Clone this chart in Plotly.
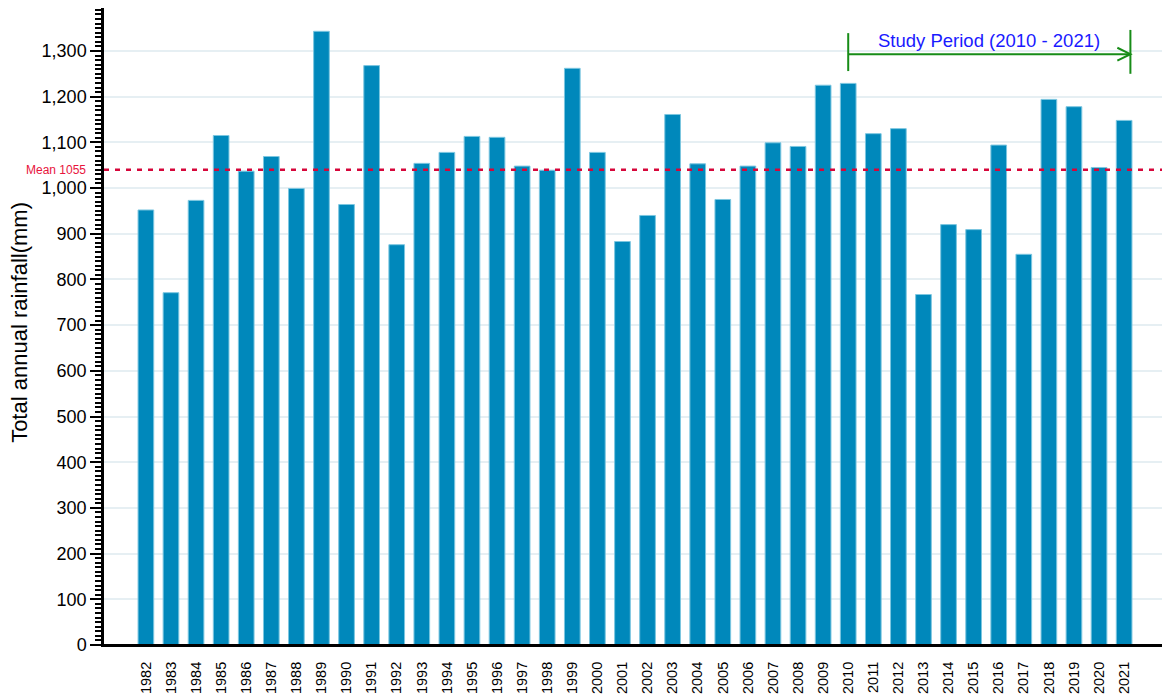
import plotly.graph_objects as go

years = list(range(1982, 2022))
rainfall = [952, 771, 973, 1115, 1037, 1069, 999, 1343, 964, 1268,
            876, 1054, 1078, 1113, 1111, 1048, 1039, 1262, 1078, 883,
            940, 1161, 1053, 975, 1048, 1099, 1091, 1225, 1229, 1119,
            1130, 767, 920, 909, 1094, 855, 1194, 1178, 1045, 1148]

mean_level = 1040
mean_label = "Mean 1055"

study_start = 2010
study_end = 2021
study_label = "Study Period (2010 - 2021)"

y_title = "Total annual rainfall(mm)"
y_ticks = list(range(0, 1301, 100))

fig = go.Figure()
fig.add_trace(go.Bar(
    x=years, y=rainfall, width=0.625,
    marker=dict(color="#0088bb", line=dict(color="#7cc6e0", width=1)),
    showlegend=False,
))

green = "#178c17"
bx_r = study_end + 0.25
y_line = 1293

# mean line
fig.add_shape(type="line", xref="paper", yref="y", x0=0, x1=1,
              y0=mean_level, y1=mean_level,
              line=dict(color="#d6063a", width=2.5, dash="5px,6px"))
fig.add_annotation(xref="paper", yref="y", x=-0.015, y=mean_level,
                   text=mean_label, showarrow=False, xanchor="right",
                   yanchor="middle",
                   font=dict(family="Liberation Sans, Arial", size=12, color="#e8143c"))

# study period bracket
fig.add_shape(type="line", xref="x", yref="y", x0=study_start, x1=study_start,
              y0=1256, y1=1339, line=dict(color=green, width=2))
fig.add_shape(type="line", xref="x", yref="y", x0=bx_r, x1=bx_r,
              y0=1250, y1=1346, line=dict(color=green, width=2))
fig.add_shape(type="line", xref="x", yref="y", x0=study_start, x1=bx_r,
              y0=y_line, y1=y_line, line=dict(color=green, width=2))
fig.add_shape(type="path", xref="x", yref="y",
              path=f"M {bx_r-0.52},{y_line+14} L {bx_r},{y_line} L {bx_r-0.52},{y_line-14}",
              line=dict(color=green, width=2))
fig.add_annotation(xref="x", yref="y", x=(study_start + bx_r) / 2, y=y_line + 3,
                   text=study_label, showarrow=False, yanchor="bottom",
                   font=dict(family="Liberation Sans, Arial", size=18.5, color="#1a1aff"))

# y axis title
fig.add_annotation(xref="paper", yref="paper", x=-0.0805, y=0.507,
                   text=y_title, showarrow=False, textangle=-90,
                   xanchor="center", yanchor="middle",
                   font=dict(family="Liberation Sans, Arial", size=22, color="black"))

# x axis extension line into margin
fig.add_shape(type="line", xref="paper", yref="y", x0=-0.0113, x1=1, y0=0, y1=0,
              line=dict(color="black", width=2))

fig.update_layout(
    width=1154, height=689,
    margin=dict(l=96, r=0, t=0, b=52),
    plot_bgcolor="white", paper_bgcolor="white",
    xaxis=dict(
        range=[1980.33, 2022.51], automargin=False,
        tickmode="array", tickvals=years, ticktext=[str(y) for y in years],
        tickangle=-90, showgrid=False, showline=True, linecolor="black",
        linewidth=2, ticks="", ticklabelstandoff=9,
        tickfont=dict(family="Liberation Sans, Arial", size=14.5, color="black"),
        zeroline=False,
    ),
    yaxis=dict(
        range=[0, 1394], automargin=False,
        tickmode="array", tickvals=y_ticks, tickformat=",d",
        showgrid=True, gridcolor="#e6eff3", gridwidth=2,
        showline=True, linecolor="black", linewidth=2.5,
        ticks="outside", ticklen=11, tickwidth=2, tickcolor="black",
        minor=dict(dtick=10, ticks="outside", ticklen=6, tickwidth=1.5,
                   tickcolor="black", showgrid=False),
        tickfont=dict(family="Liberation Sans, Arial", size=18, color="black"),
        zeroline=False,
    ),
)

fig.write_html("out.html")
